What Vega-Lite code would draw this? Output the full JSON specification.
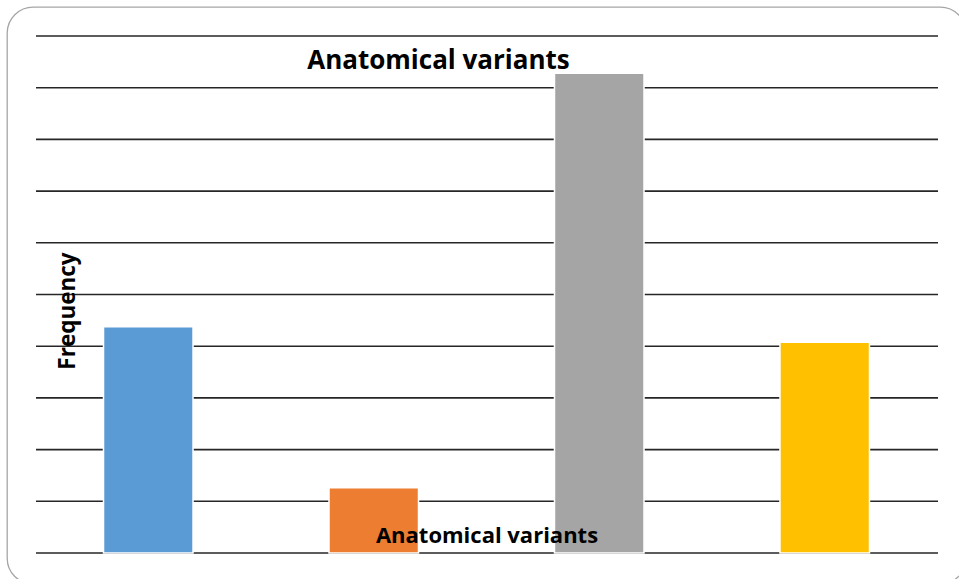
{
  "$schema": "https://vega.github.io/schema/vega-lite/v6.json",
  "width": 959,
  "height": 577,
  "autosize": {"type": "none"},
  "padding": {"left": 7, "top": 7, "right": 0, "bottom": 0},
  "background": "white",
  "config": {
    "view": {"stroke": "#a6a6a6", "strokeWidth": 1.3, "cornerRadius": 26},
    "font": "Open Sans"
  },
  "title": {
    "text": "Anatomical variants",
    "fontSize": 26,
    "font": "Open Sans",
    "fontWeight": "bold",
    "color": "#000000",
    "anchor": "middle",
    "frame": "group",
    "baseline": "alphabetic",
    "offset": -88,
    "dx": -48
  },
  "layer": [
    {
      "data": {"values": [{"g": 0}, {"g": 1}, {"g": 2}, {"g": 3}, {"g": 4}, {"g": 5}, {"g": 6}, {"g": 7}, {"g": 8}, {"g": 9}, {"g": 10}]},
      "mark": {"type": "rule", "color": "#262626", "strokeWidth": 1.6},
      "encoding": {
        "y": {"field": "g", "type": "quantitative", "scale": {"domain": [-0.5996, 10.561], "nice": false, "zero": false}, "axis": null},
        "x": {"datum": 0, "type": "quantitative", "scale": {"domain": [-0.03215, 1.03104], "nice": false, "zero": false}, "axis": null},
        "x2": {"datum": 1}
      }
    },
    {
      "data": {
        "values": [
          {"variant": "Variant 1", "frequency": 4.377},
          {"variant": "Variant 2", "frequency": 1.263},
          {"variant": "Variant 3", "frequency": 9.279},
          {"variant": "Variant 4", "frequency": 4.075}
        ]
      },
      "mark": {"type": "bar", "stroke": "white", "strokeWidth": 1.5},
      "encoding": {
        "x": {
          "field": "variant",
          "type": "nominal",
          "sort": null,
          "scale": {"paddingInner": 0.603, "paddingOuter": 0.428},
          "axis": {
            "labels": false, "ticks": false, "domain": false, "grid": false, "zindex": 2,
            "title": "Anatomical variants",
            "titleFont": "Open Sans", "titleFontSize": 22, "titleFontWeight": "bold", "titleColor": "#000000",
            "titleBaseline": "alphabetic", "titleY": -42
          }
        },
        "y": {
          "field": "frequency",
          "type": "quantitative",
          "scale": {"domain": [-0.5996, 10.561], "nice": false, "zero": false},
          "axis": {
            "labels": false, "ticks": false, "domain": false, "grid": false, "zindex": 2,
            "title": "Frequency",
            "titleFont": "Open Sans", "titleFontSize": 22.5, "titleFontWeight": "bold", "titleColor": "#000000",
            "titleBaseline": "alphabetic", "titleX": 67, "titleY": 303.5, "titleAlign": "center", "titleAngle": -90
          }
        },
        "y2": {"datum": 0},
        "color": {
          "field": "variant",
          "type": "nominal",
          "sort": null,
          "scale": {"range": ["#5b9bd5", "#ed7d31", "#a5a5a5", "#ffc000"]},
          "legend": null
        }
      }
    }
  ],
  "resolve": {"scale": {"x": "independent", "y": "independent"}}
}
